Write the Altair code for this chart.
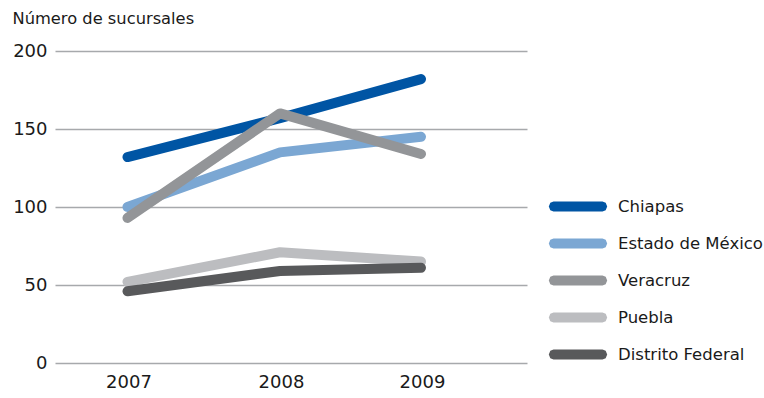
import altair as alt
import pandas as pd

years = [2007, 2008, 2009]
series_names = ["Chiapas", "Estado de México", "Veracruz", "Puebla", "Distrito Federal"]
chiapas = [132, 157, 182]
edomex = [100, 135, 145]
veracruz = [93, 160, 134]
puebla = [52, 71, 65]
df_vals = [46, 59, 61]
colors = ["#0055a4", "#7ba7d3", "#939598", "#bcbdc0", "#58595b"]
y_ticks = [0, 50, 100, 150, 200]

rows = []
for name, vals in zip(series_names, [chiapas, edomex, veracruz, puebla, df_vals]):
    for yr, v in zip(years, vals):
        rows.append({"Año": yr, "Sucursales": v, "Estado": name})
data = pd.DataFrame(rows)

FONT = "DejaVu Sans"
TXT = "#1a1a1a"

# legend symbol: outline of a bar with rounded ends (stroked, so it reads as a solid pill)
SYMBOL = ("M-2.4,-0.25L2.4,-0.25L2.577,-0.177L2.65,0L2.577,0.177L2.4,0.25"
          "L-2.4,0.25L-2.577,0.177L-2.65,0L-2.577,-0.177Z")

chart = alt.Chart(data).mark_line(strokeWidth=10, strokeCap="round", strokeJoin="round").encode(
    x=alt.X("Año:Q",
            scale=alt.Scale(domain=[2006, 2007, 2008, 2009, 2010],
                            range=[0, 72.5, 225, 366, 472], nice=False, zero=False),
            axis=alt.Axis(values=years, format="d", title=None, grid=False, domain=False,
                          ticks=False, labelFontSize=18, labelColor=TXT,
                          labelPadding=10, labelFont=FONT, labelOffset=1)),
    y=alt.Y("Sucursales:Q",
            scale=alt.Scale(domain=[0, 200], nice=False),
            axis=alt.Axis(values=y_ticks, title="Número de sucursales", titleAngle=0,
                          titleAlign="left", titleBaseline="alphabetic", titleX=-43, titleY=-28,
                          titleFontSize=16.3, titleFontWeight="normal", titleFont=FONT,
                          titleColor=TXT,
                          domain=False, ticks=False, labelFontSize=18, labelColor=TXT,
                          labelPadding=8, labelFont=FONT,
                          gridColor="#a7a9ac", gridWidth=1.5)),
    color=alt.Color("Estado:N",
                    scale=alt.Scale(domain=series_names, range=colors),
                    sort=series_names,
                    legend=alt.Legend(title=None, orient="none", legendX=510.5, legendY=143,
                                      symbolType=SYMBOL, symbolStrokeWidth=5,
                                      symbolSize=400, labelFontSize=16.5, labelFont=FONT,
                                      labelColor=TXT, rowPadding=12, labelOffset=27.5)),
    order=alt.Order("Año:Q"),
).properties(
    width=472,
    height=312,
    autosize=alt.AutoSizeParams(type="none"),
    padding={"left": 55, "top": 51, "right": 237, "bottom": 35},
).configure_view(stroke=None)

chart.save("out.html", embed_options={"renderer": "svg", "actions": False})
